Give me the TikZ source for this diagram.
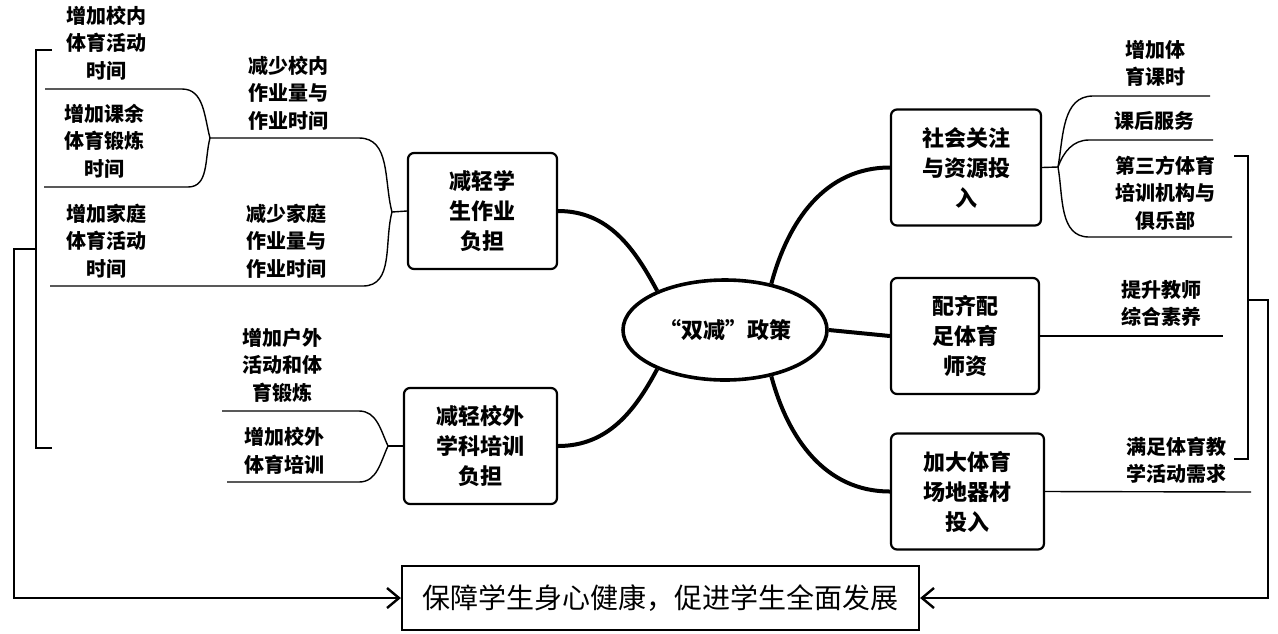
\documentclass[tikz,border=0pt]{standalone}
\usepackage{fontspec}
\newfontfamily\cjk{Noto Sans CJK SC}
\usetikzlibrary{shapes.geometric,arrows.meta}

\tikzset{
  box/.style={draw, line width=1.1pt, rounded corners=3pt, align=center,
    font=\cjk\bfseries\fontsize{11}{15}\selectfont, minimum height=58pt},
  leaf/.style={align=center, inner sep=0pt,
    font=\cjk\bfseries\fontsize{10}{13.75}\selectfont},
  main/.style={line width=2pt},
  branch/.style={line width=0.7pt},
  bracket/.style={line width=1.2pt},
}

\begin{document}
\begin{tikzpicture}[x=0.5pt,y=-0.5pt,>={Straight Barb[length=6pt,width=10pt]}]
    \useasboundingbox (0,0) rectangle (1278,633);

    % policy in the middle
    \node[draw, ellipse, line width=1.8pt, inner sep=1pt, minimum width=102pt, minimum height=50pt,
      font=\cjk\bfseries\fontsize{11}{13}\selectfont] (policy) at (725,330) {“双减”政策};

    % boxes
    \node[box, minimum width=74.5pt] (load) at (482.5,211) {减轻学\\生作业\\负担};
    \node[box, minimum width=76.5pt] (tutor) at (480.5,446) {减轻校外\\学科培训\\负担};
    \node[box, minimum width=75pt] (social) at (966,167.5) {社会关注\\与资源投\\入};
    \node[box, minimum width=74pt] (teacher) at (965,336) {配齐配\\足体育\\师资};
    \node[box, minimum width=76.5pt] (venue) at (967.5,491.5) {加大体育\\场地器材\\投入};
    \node[draw, line width=1.1pt, minimum width=258.5pt, minimum height=32pt,
      font=\cjk\fontsize{14}{16}\selectfont] (goal) at (660.5,598) {保障学生身心健康，促进学生全面发展};

    % labels on the left
    \node[leaf] (inPE) at (106,43) {增加校内\\体育活动\\时间};
    \node[leaf] (extraPE) at (104,141) {增加课余\\体育锻炼\\时间};
    \node[leaf] (cutSchool) at (288,93) {减少校内\\作业量与\\作业时间};
    \node[leaf] (homePE) at (106,241) {增加家庭\\体育活动\\时间};
    \node[leaf] (cutHome) at (286,241) {减少家庭\\作业量与\\作业时间};
    \node[leaf] (outdoor) at (282,365) {增加户外\\活动和体\\育锻炼};
    \node[leaf] (outPE) at (284,451) {增加校外\\体育培训};

    % labels on the right
    \node[leaf] (lessons) at (1155,63.5) {增加体\\育课时};
    \node[leaf] (service) at (1154,121) {课后服务};
    \node[leaf] (clubs) at (1165,193) {第三方体育\\培训机构与\\俱乐部};
    \node[leaf] (skills) at (1161,303.5) {提升教师\\综合素养};
    \node[leaf] (needs) at (1176,460) {满足体育教\\学活动需求};

    % ends of the thin lines
    \coordinate (jA) at (392,212);
    \coordinate (jB) at (210,138);
    \coordinate (cutSchoolR) at (359,138);
    \coordinate (cutHomeR) at (363,286);
    \coordinate (cutHomeL) at (50,286);
    \coordinate (inPER) at (182,89);
    \coordinate (inPEL) at (45,89);
    \coordinate (extraPER) at (188,187);
    \coordinate (extraPEL) at (44,187);
    \coordinate (jC) at (388,446);
    \coordinate (outdoorR) at (359,411);
    \coordinate (outdoorL) at (222,411);
    \coordinate (outPER) at (359,482);
    \coordinate (outPEL) at (227,482);
    \coordinate (jD) at (1058,167);
    \coordinate (lessonsL) at (1093,96);
    \coordinate (lessonsR) at (1210,96);
    \coordinate (serviceL) at (1089,140);
    \coordinate (serviceR) at (1213,140);
    \coordinate (clubsL) at (1089,237);
    \coordinate (clubsR) at (1232,237);
    \coordinate (skillsR) at (1223,336);
    \coordinate (needsR) at (1251,492);

    % thick connectors
    \draw[main] (policy.150) to[out=118,in=0] (load.east);
    \draw[main] (policy.210) to[out=242,in=0] (tutor.east);
    \draw[main] (policy.45) to[out=75,in=180] (social.west);
    \draw[main] (policy.east) -- (teacher.west);
    \draw[main] (policy.315) to[out=285,in=180] (venue.west);

    % thin lines, left
    \draw[branch] (load.west) -- (jA);
    \draw[branch] (jA) to[out=105,in=0] (cutSchoolR) -- (jB);
    \draw[branch] (jA) to[out=255,in=0] (cutHomeR) -- (cutHomeL);
    \draw[branch] (jB) to[out=105,in=0] (inPER) -- (inPEL);
    \draw[branch] (jB) to[out=255,in=0] (extraPER) -- (extraPEL);
    \draw[branch] (tutor.west) -- (jC);
    \draw[branch] (jC) to[out=115,in=0] (outdoorR) -- (outdoorL);
    \draw[branch] (jC) to[out=245,in=0] (outPER) -- (outPEL);

    % thin lines, right
    \draw[branch] (social.east) -- (jD);
    \draw[branch] (jD) to[out=80,in=180] (lessonsL) -- (lessonsR);
    \draw[branch] (jD) to[out=70,in=180] (serviceL) -- (serviceR);
    \draw[branch] (jD) to[out=280,in=180] (clubsL) -- (clubsR);
    \draw[branch] (teacher.east) -- (skillsR);
    \draw[branch] (venue.east) -- (needsR);

    % brackets and arrows to the goal
    \coordinate (lbTop) at (52,50);
    \coordinate (lbBot) at (52,448);
    \coordinate (lbMid) at (36,249);
    \coordinate (lOut) at (14,249);
    \draw[bracket] (lbTop) -- ++(-16,0) |- (lbBot);
    \draw[bracket,->] (lbMid) -- (lOut) |- (goal.west);

    \coordinate (rbTop) at (1234,156);
    \coordinate (rbBot) at (1234,459);
    \coordinate (rbMid) at (1248,300);
    \coordinate (rOut) at (1268,300);
    \draw[bracket] (rbTop) -- ++(14,0) |- (rbBot);
    \draw[bracket,->] (rbMid) -- (rOut) |- (goal.east);

\end{tikzpicture}
\end{document}
